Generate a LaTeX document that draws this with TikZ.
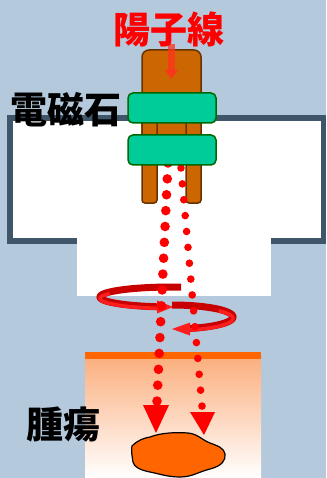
\documentclass[tikz,border=0pt]{standalone}
\usepackage{fontspec}
\newfontfamily\jpfont{Noto Sans CJK JP}
\usetikzlibrary{arrows.meta}
\definecolor{sky}{RGB}{180,201,220}
\definecolor{slate}{RGB}{62,85,106}
\definecolor{nozzle}{RGB}{204,102,0}
\definecolor{nozzleedge}{RGB}{102,51,0}
\definecolor{coil}{RGB}{0,204,153}
\definecolor{coiledge}{RGB}{0,102,0}
\definecolor{tissue}{RGB}{251,176,128}
\definecolor{tumor}{RGB}{255,102,0}
\definecolor{beam}{RGB}{255,0,0}
\definecolor{spinback}{RGB}{200,0,0}
\definecolor{spinfront}{RGB}{255,30,30}
\definecolor{inlet}{RGB}{255,50,30}
\tikzset{
  label/.style={font=\jpfont\bfseries\fontsize{37}{40}\selectfont, inner sep=0pt},
  coilbox/.style={fill=coil, draw=coiledge, line width=1.5pt, rounded corners=5pt},
  nozzlepart/.style={fill=nozzle, draw=nozzleedge, line width=1.5pt},
  bigdot/.style={fill=beam},
  spinpath/.style={line width=7pt, draw=spinback},
  spinlight/.style={line width=3.5pt, draw=spinfront, yshift=-1.5pt},
}
\begin{document}
\begin{tikzpicture}[x=1pt, y=-1pt]
  % background
  \fill[sky] (0,0) rectangle (326,478);
  \useasboundingbox (0,0) rectangle (326,478);
  % magnet housing
  \draw[slate, fill=white, line width=5.5pt] (10,118) rectangle (323.5,241);
  \fill[white] (77,236) rectangle (271,296);
  % tissue with tumour
  \shade[top color=tissue, bottom color=white] (85,359) rectangle (261,478);
  \fill[tumor] (85,352) rectangle (261,359);
  \draw[black, line width=1.2pt, fill=tumor] (132,446) .. controls (138,440) and (144,438) .. (150,437)
    .. controls (160,433) and (175,432) .. (188,433)
    .. controls (198,434) and (202,440) .. (210,443)
    .. controls (218,446) and (224,448) .. (225,454)
    .. controls (226,460) and (222,466) .. (210,469)
    .. controls (198,472) and (192,477) .. (180,477)
    .. controls (168,477) and (160,474) .. (150,472)
    .. controls (140,470) and (134,467) .. (133,462)
    .. controls (132,456) and (131,450) .. cycle;
  % nozzle
  \draw[nozzlepart, rounded corners=7pt] (142,50) rectangle (201,145);
  \draw[nozzlepart, rounded corners=3pt] (142,118) rectangle (157,203);
  \draw[nozzlepart, rounded corners=3pt] (186,118) rectangle (201,203);
  % rotating field arrow
  \draw[spinpath] (181,287) -- (172,287) -- plot[domain=90:259, samples=50] ({172+72*cos(\x)}, {297-10*sin(\x)});
  \draw[spinlight] plot[domain=150:259, samples=40] ({172+72*cos(\x)}, {297-10*sin(\x)});
  \fill[spinfront] (157,300.5) -- (173,307) -- (157,313.5) -- cycle;
  \draw[spinpath] plot[domain=90:-73, samples=50] ({172+61*cos(\x)}, {317-12*sin(\x)});
  \draw[spinlight] plot[domain=40:-73, samples=40] ({172+61*cos(\x)}, {317-12*sin(\x)});
  \fill[spinfront] (190,322.5) -- (172,329) -- (190,335.5) -- cycle;
  % proton beams
  \foreach \i in {0,...,15} {
    \fill[bigdot] ({168-11*\i/15}, {163+\i*15.87}) circle (4.8pt);
    \fill[bigdot] ({181+21*\i/15}, {168+\i*15.87}) circle (3.8pt);
  }
  \fill[beam] (143,405) -- (169,405) -- (156,433) -- cycle;
  \fill[beam] (190,412) -- (215,412) -- (204,435) -- cycle;
  % coils
  \draw[coilbox] (128,93) rectangle (216,123);
  \draw[coilbox] (128,135) rectangle (216,165);
  % incoming beam arrow
  \coordinate (inA) at (171.5,44);
  \coordinate (inB) at (171.5,79);
  \draw[inlet, opacity=0.75, line width=7pt, -{Triangle[length=9pt, width=13pt]}] (inA) -- (inB);
  % labels
  \node[label, text=red] (proton) at (168.5,29) {陽子線};
  \node[label] (magnet) at (65.5,110) {電磁石};
  \node[label] (tumorlabel) at (63.5,424.5) {腫瘍};
\end{tikzpicture}
\end{document}
